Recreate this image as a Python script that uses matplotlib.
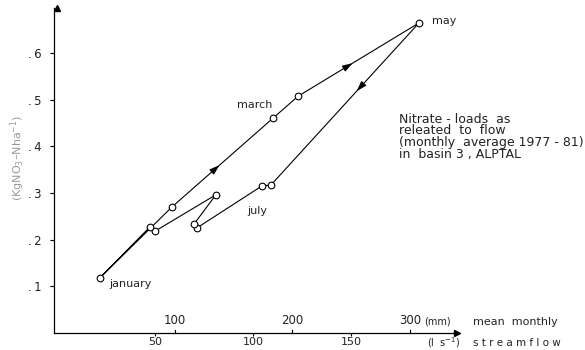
import matplotlib
matplotlib.use("Agg")
import matplotlib.pyplot as plt
import numpy as np

# ---- data ----
months = ["january", "february", "march", "april", "may", "june", "july",
          "august", "september", "october", "november", "december"]
flow_ls = [21.9, 58.7, 110.2, 123.0, 184.7, 109.2, 104.6, 71.4, 69.9, 81.1, 50.0, 47.4]
nitrate = [0.118, 0.270, 0.460, 0.507, 0.664, 0.317, 0.315, 0.225, 0.233, 0.296, 0.218, 0.227]
labeled_months = ["january", "march", "may", "july"]

y_ticks = [0.1, 0.2, 0.3, 0.4, 0.5, 0.6]
y_tick_labels = [".\u20091", ".\u20092", ".\u20093", ".\u20094", ".\u20095", ".\u20096"]
x_ticks_ls = [50, 100, 150]
x_ticks_mm = [100, 200, 300]
LS_PER_MM = 0.6  # conversion between (l s-1) and (mm) monthly

caption = ["Nitrate - loads  as",
           "releated  to  flow",
           "(monthly  average 1977 - 81)",
           "in  basin 3 , ALPTAL"]

FS = 8
TXT = "#222222"

fig = plt.figure(figsize=(5.85, 3.5), dpi=100)
W, H = 585, 350
left_px, right_px, bot_px, top_px = 54, 457, 333, 8
ax = fig.add_axes([left_px / W, 1 - bot_px / H, (right_px - left_px) / W, (bot_px - top_px) / H])
ax.set_xlim(-1.5, 204.1)
ax.set_ylim(0, 0.696)

for s in ["top", "right"]:
    ax.spines[s].set_visible(False)
for s in ["left", "bottom"]:
    ax.spines[s].set_linewidth(0.9)

# axis arrows
ax.plot(1, 0, ">", color="black", ms=5, transform=ax.get_yaxis_transform(), clip_on=False)
ax.plot(0, 1, "^", color="black", ms=5, transform=ax.get_xaxis_transform(), clip_on=False)

# closed loop path
xs = flow_ls + [flow_ls[0]]
ys = nitrate + [nitrate[0]]
ax.plot(xs, ys, color="black", lw=0.8, zorder=2)
ax.plot(flow_ls, nitrate, "o", ms=4.8, mfc="white", mec="black", mew=0.8, zorder=3)

# direction arrows along segments (start index, fraction along segment)
for i, f in [(1, 0.45), (3, 0.43), (4, 0.40)]:
    x0, y0 = flow_ls[i], nitrate[i]
    x1, y1 = flow_ls[i + 1], nitrate[i + 1]
    px, py = x0 + f * (x1 - x0), y0 + f * (y1 - y0)
    qx, qy = x0 + (f + 0.02) * (x1 - x0), y0 + (f + 0.02) * (y1 - y0)
    ax.annotate("", xy=(qx, qy), xytext=(px, py),
                arrowprops=dict(arrowstyle="-|>,head_length=0.6,head_width=0.2",
                                color="black", lw=0.8, shrinkA=0, shrinkB=0))

# month labels
label_pos = {"january": (26.5, 0.104), "march": (91.8, 0.488),
             "may": (191.5, 0.668), "july": (97.0, 0.261)}
for m in labeled_months:
    x, y = label_pos[m]
    ax.text(x, y, m, fontsize=FS, color=TXT, ha="left", va="center")

# y ticks
ax.set_yticks(y_ticks)
ax.set_yticklabels(y_tick_labels, fontsize=FS + 0.5, color=TXT)
ax.tick_params(axis="y", direction="out", length=3, width=0.8, pad=6)

# lower x ticks (l s-1)
ax.set_xticks(x_ticks_ls)
ax.set_xticklabels([str(v) for v in x_ticks_ls], fontsize=FS, color=TXT)
ax.tick_params(axis="x", direction="out", length=2, width=0.8, pad=1)

# upper x ticks (mm), drawn above the bottom axis
tr = ax.get_xaxis_transform()
for v in x_ticks_mm:
    q = v * LS_PER_MM
    ax.plot([q, q], [0, 0.008], color="black", lw=0.8, transform=tr, clip_on=False)
    ax.text(q, 0.02, str(v), fontsize=FS + 0.5, color=TXT, ha="center", va="bottom",
            transform=tr)

# axis annotations
fig.text(424 / W, 1 - 322 / H, "(mm)", fontsize=FS - 1, color=TXT, va="center")
fig.text(473 / W, 1 - 322 / H, "mean  monthly", fontsize=FS, color=TXT, va="center")
fig.text(427 / W, 1 - 343 / H, "(l  s$^{-1}$)", fontsize=FS - 1, color=TXT, va="center")
fig.text(473 / W, 1 - 343 / H, "s t r e a m f l o w", fontsize=FS - 0.5, color=TXT, va="center")

# y axis label
fig.text(18 / W, 1 - 158 / H, "(KgNO$_3$–Nha$^{-1}$)", fontsize=FS, color="#9a9a9a",
         rotation=90, ha="center", va="center")

# caption
for k, line in enumerate(caption):
    fig.text(399 / W, 1 - (119 + 11.8 * k) / H, line, fontsize=FS + 1, color=TXT,
             ha="left", va="center")

fig.savefig("out.png", dpi=100)
